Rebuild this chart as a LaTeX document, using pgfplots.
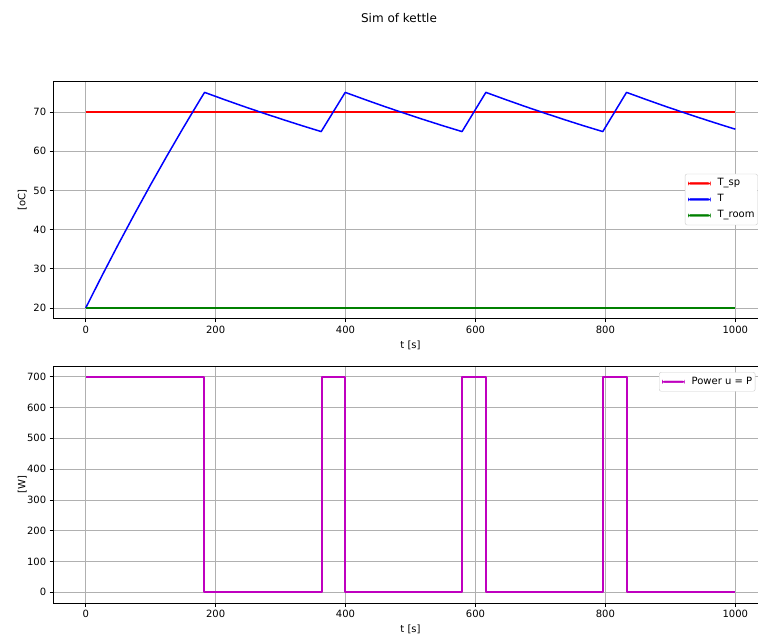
\documentclass[border=0pt]{standalone}
\usepackage{fontspec}
\setmainfont{DejaVu Sans}
\usepackage{pgfplots}
\pgfplotsset{compat=1.18}
\definecolor{mplred}{RGB}{255,0,0}
\definecolor{mplblue}{RGB}{0,0,255}
\definecolor{mplgreen}{RGB}{0,128,0}
\definecolor{mplmag}{RGB}{191,0,191}
\definecolor{gridgray}{RGB}{176,176,176}
\definecolor{legframe}{RGB}{204,204,204}
\pgfplotsset{
  mplaxis/.style={
    scale only axis, width=714.6pt, height=237.2pt,
    xmin=-50, xmax=1050,
    axis line style={line width=0.8pt, black},
    tick align=outside, tick pos=left,
    major tick length=3.5pt,
    every tick/.style={black, line width=0.8pt},
    grid=major,
    grid style={gridgray, line width=0.8pt},
    xtick={0,200,...,1000},
    tick label style={font=\fontsize{10}{12}\selectfont},
    /pgf/number format/assume math mode=true,
    /pgf/number format/1000 sep={},
    label style={font=\fontsize{10}{12}\selectfont, inner sep=0pt},
    xlabel style={at={(axis description cs:0.5,-0.091)}, anchor=north},
    ylabel style={at={(axis description cs:-0.0367,0.5)}, anchor=south},
    xlabel={t [s]},
    legend style={draw=legframe, rounded corners=2pt, fill=white,
      font=\fontsize{10}{12}\selectfont,
      inner xsep=3pt, inner ysep=1.5pt,
      nodes={inner xsep=0pt, inner ysep=3pt, text height=7.5pt, text depth=2.5pt},
      column sep=7pt},
    legend cell align=left,
    legend image code/.code={\path[##1, fill=.] (0pt,-0.8pt) rectangle (22pt,0.8pt);},
  },
}
\begin{document}
\begin{tikzpicture}[x=1pt,y=1pt]
\fill[white] (0,0) rectangle (758,635);
\node[anchor=base, font=\fontsize{12}{14}\selectfont] at (399,612.7) {Sim of kettle};
\begin{axis}[mplaxis, at={(53.2pt,316.2pt)}, anchor=south west,
  ymin=17.25, ymax=77.75, ytick={20,30,...,70},
  ylabel={[oC]},
  legend style={at={(0.884,0.503)}, anchor=west}]
\addplot[color=mplred, line width=1.5pt, forget plot] coordinates {(0,70) (1000,70)};
\addplot[color=mplblue, line width=1.5pt, line join=round, forget plot] coordinates {
(0,20) (25,28.20) (50,36.17) (75,43.92) (100,51.46) (125,58.78) (150,65.91) (175,72.84) (183,75)
(213,73.19) (243,71.43) (273,69.74) (303,68.10) (333,66.51) (362.5,65)
(399.5,75)
(429.5,73.19) (459.5,71.43) (489.5,69.74) (519.5,68.10) (549.5,66.51) (579.3,65)
(616,75)
(646,73.19) (676,71.43) (706,69.74) (736,68.10) (766,66.51) (796,65)
(832.5,75)
(862.5,73.19) (892.5,71.43) (922.5,69.74) (952.5,68.10) (982.5,66.51) (1000,65.61)
};
\addplot[color=mplgreen, line width=1.5pt, forget plot] coordinates {(0,20) (1000,20)};
\addlegendimage{color=mplred}
\addlegendentry{T\_sp}
\addlegendimage{color=mplblue}
\addlegendentry{T}
\addlegendimage{color=mplgreen}
\addlegendentry{T\_room}
\end{axis}
\begin{axis}[mplaxis, at={(53.2pt,31.9pt)}, anchor=south west,
  ymin=-35, ymax=735, ytick={0,100,...,700},
  ylabel={[W]},
  legend style={at={(0.8478,0.974)}, anchor=north west}]
\addplot[color=mplmag, line width=2pt, line join=round, forget plot] coordinates {
(0,700) (182.5,700) (182.5,0) (363,0) (363,700) (399,700) (399,0)
(579.5,0) (579.5,700) (616,700) (616,0) (796.5,0) (796.5,700) (832.5,700) (832.5,0) (1000,0)
};
\addlegendimage{color=mplmag}
\addlegendentry{Power u = P}
\end{axis}
\pgfresetboundingbox
\path (0,0) rectangle (758,635);
\end{tikzpicture}
\end{document}
